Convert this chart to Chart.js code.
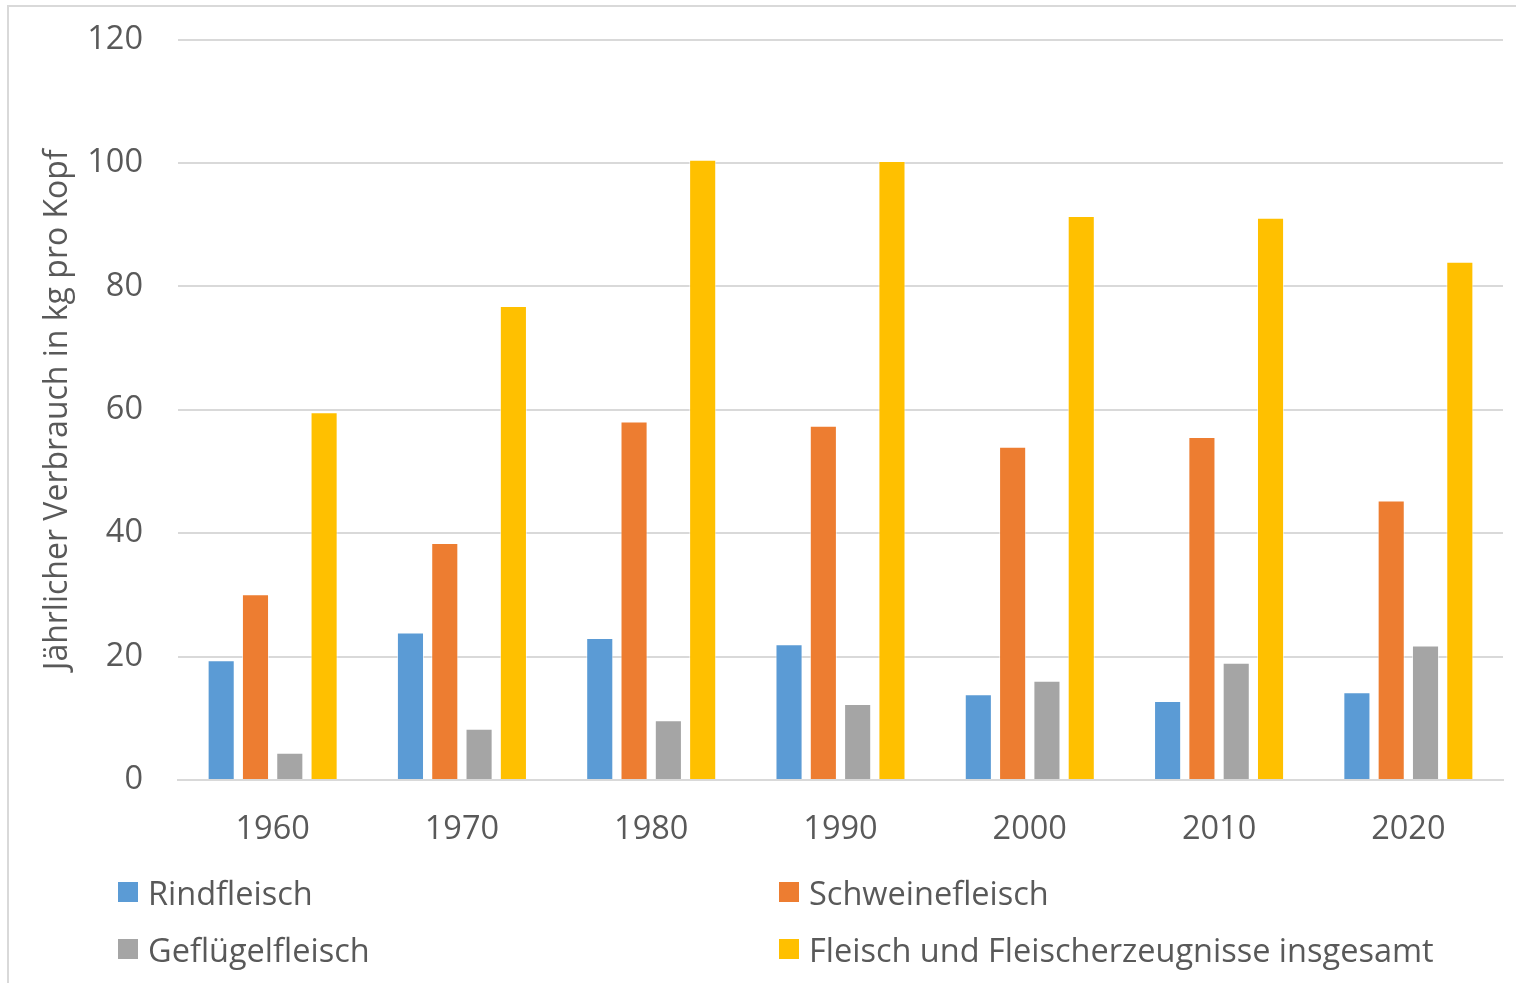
<!DOCTYPE html>
<html><head><meta charset="utf-8">
<script src="https://cdn.jsdelivr.net/npm/chart.js@4.4.1/dist/chart.umd.min.js"></script>
<style>
html,body{margin:0;padding:0;background:#fff;width:1516px;height:983px;overflow:hidden;font-family:"Open Sans",sans-serif;}
#frame{position:absolute;left:7px;top:5px;width:1530px;height:990px;border:2px solid #d9d9d9;box-sizing:border-box;}
#wrap{position:absolute;left:0;top:-15px;width:1516px;height:875px;}
#legend{position:absolute;left:0;top:0;width:1516px;height:983px;pointer-events:none;}
.li{position:absolute;display:flex;align-items:center;color:#595959;font-size:32.5px;white-space:nowrap;}
.li span.b{display:inline-block;width:20px;height:20px;margin-right:10px;}
</style></head><body>
<div id="frame"></div>
<div id="wrap"><canvas id="c" width="1516" height="875"></canvas></div>
<div id="legend"></div>
<script>
const categories = ["1960","1970","1980","1990","2000","2010","2020"];
const rindfleisch = [19.4, 23.9, 23.0, 22.0, 13.9, 12.8, 14.2];
const schweinefleisch = [30.1, 38.4, 58.1, 57.4, 54.0, 55.6, 45.3];
const gefluegelfleisch = [4.4, 8.3, 9.7, 12.3, 16.1, 19.0, 21.8];
const insgesamt = [59.6, 76.8, 100.5, 100.3, 91.4, 91.1, 84.0];
const seriesNames = ["Rindfleisch","Schweinefleisch","Geflügelfleisch","Fleisch und Fleischerzeugnisse insgesamt"];
const seriesColors = ["#5B9BD5","#ED7D31","#A5A5A5","#FFC000"];
const yTitle = "Jährlicher Verbrauch in kg pro Kopf";

const seriesData = [rindfleisch, schweinefleisch, gefluegelfleisch, insgesamt];
const font = "'Open Sans', sans-serif";
new Chart(document.getElementById('c'), {
  type: 'bar',
  data: {
    labels: categories,
    datasets: seriesData.map((d,i)=>({
      label: seriesNames[i], data: d, backgroundColor: seriesColors[i],
      borderColor: 'rgba(255,255,255,0.6)', borderWidth: 1,
      barPercentage: 0.79, categoryPercentage: 0.725
    }))
  },
  options: {
    responsive: false, animation: false,
    layout: { padding: { left: 30, right: 13, top: 27, bottom: 0 } },
    plugins: { legend: { display: false }, tooltip: { enabled: false } },
    scales: {
      x: {
        grid: { display: false, drawTicks: false },
        border: { display: true, color: '#d9d9d9', width: 2 },
        ticks: { color: '#595959', font: { family: font, size: 32.5 }, padding: 30 },
        afterFit: s => { s.height = 80; }
      },
      y: {
        min: 0, max: 120,
        ticks: { stepSize: 20, color: '#595959', font: { family: font, size: 32.5 }, padding: 35 },
        grid: { color: '#d9d9d9', lineWidth: 2, drawTicks: false },
        border: { display: false },
        title: { display: true, text: yTitle, color: '#595959', font: { family: font, size: 32 }, padding: { top: 9, bottom: 0 } },
        afterFit: s => { s.width = 148; }
      }
    }
  }
});
const lg = document.getElementById('legend');
const pos = [[118,892],[779,892],[118,949],[779,949]];
seriesNames.forEach((n,i)=>{
  const d = document.createElement('div'); d.className='li';
  d.style.left = pos[i][0]+'px'; d.style.top = (pos[i][1]-22)+'px'; d.style.height='44px';
  d.innerHTML = '<span class="b" style="background:'+seriesColors[i]+'"></span><span>'+n+'</span>';
  lg.appendChild(d);
});
</script>
</body></html>
